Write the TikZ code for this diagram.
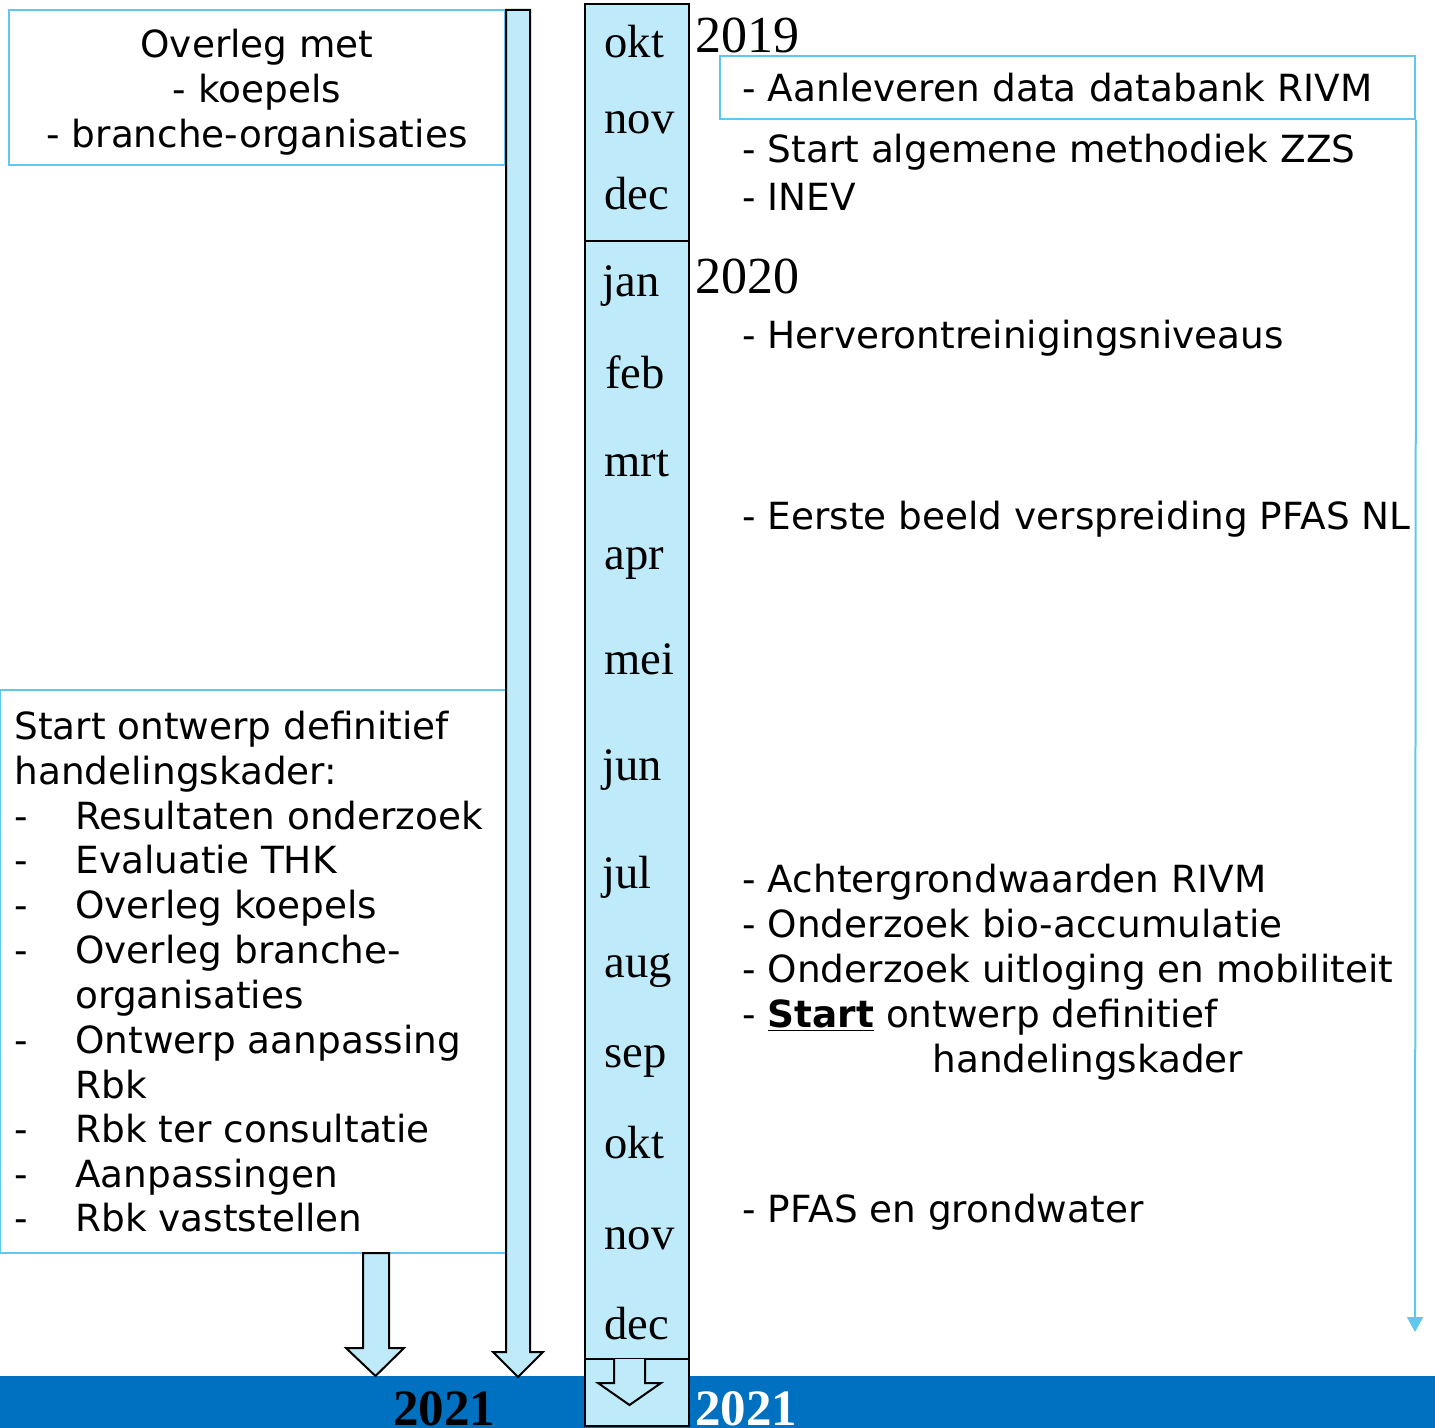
\documentclass[tikz,border=0pt]{standalone}
\usepackage{fontspec}
\setmainfont{DejaVu Sans}
\newfontfamily\maandfont{Liberation Serif}
\usetikzlibrary{arrows.meta}
\definecolor{lichtblauw}{RGB}{190,234,250}
\definecolor{randblauw}{RGB}{95,200,240}
\definecolor{bandblauw}{RGB}{0,112,192}

\tikzset{
  maand/.style = {anchor=west, inner sep=0pt, font=\maandfont\fontsize{23.3}{28}\selectfont},
  jaar/.style = {anchor=west, inner sep=0pt, font=\maandfont\fontsize{26}{30}\selectfont},
  slotjaar/.style = {anchor=base west, inner sep=0pt, font=\maandfont\bfseries\fontsize{25.5}{30}\selectfont},
  regel/.style = {anchor=base west, inner sep=0pt, font=\fontsize{18.7}{22.5}\selectfont},
  kader/.style = {draw=randblauw, line width=1pt, fill=white},
  blokpijl/.style = {draw=black, line width=1pt, fill=lichtblauw},
}
\newcommand{\streep}{\makebox[30.5pt][l]{-}}

\begin{document}
\begin{tikzpicture}[x=0.5pt, y=-0.5pt]

    \useasboundingbox (0,0) rectangle (1435,1428);

    % band onderaan
    \fill[bandblauw] (0,1376) rectangle (1435,1428);

    % kaders links
    \node[kader, minimum width=248pt, minimum height=77.5pt, inner sep=0pt] (overleg) at (257,87.5) {};
    \node[inner sep=0pt, align=center, font=\fontsize{18.7}{22.5}\selectfont] (overlegtekst) at (257,92)
          {Overleg met\\- koepels\\- branche-organisaties};
    \node[kader, minimum width=253.5pt, minimum height=281.5pt, inner sep=0pt] (ontwerp) at (253.5,971.5) {};

    \node[regel] (o1) at (14,739) {Start ontwerp definitief};
    \node[regel] (o2) at (14,784) {handelingskader:};
    \node[regel] (o3) at (14,829) {\streep Resultaten onderzoek};
    \node[regel] (o4) at (14,873) {\streep Evaluatie THK};
    \node[regel] (o5) at (14,918) {\streep Overleg koepels};
    \node[regel] (o6) at (14,963) {\streep Overleg branche-};
    \node[regel] (o7) at (75,1008) {organisaties};
    \node[regel] (o8) at (14,1053) {\streep Ontwerp aanpassing};
    \node[regel] (o9) at (75,1098) {Rbk};
    \node[regel] (o10) at (14,1142) {\streep Rbk ter consultatie};
    \node[regel] (o11) at (14,1187) {\streep Aanpassingen};
    \node[regel] (o12) at (14,1231) {\streep Rbk vaststellen};

    % pijlen naar 2021
    \draw[blokpijl] (506,10) -- (530,10) -- (530,1352) -- (543,1352) -- (518,1377)
        -- (493,1352) -- (506,1352) -- cycle;
    \draw[blokpijl] (363,1253) -- (389,1253) -- (389,1348) -- (404,1348) -- (375.5,1376)
        -- (346,1348) -- (363,1348) -- cycle;

    % maandbalk
    \draw[blokpijl] (585,4) rectangle (689,1426);
    \draw[line width=1pt] (585,241) -- (689,241);
    \draw[line width=1pt] (585,1359) -- (689,1359);
    \draw[line width=1pt, fill=lichtblauw] (614,1359) -- (614,1383) -- (598,1383) -- (629.5,1405)
        -- (661,1383) -- (645,1383) -- (645,1359);

    \node[maand] (okt1) at (604,42) {okt};
    \node[maand] (nov1) at (604,123) {nov};
    \node[maand] (dec1) at (604,194) {dec};
    \node[maand] (jan) at (602,286) {jan};
    \node[maand] (feb) at (605,372) {feb};
    \node[maand] (mrt) at (604,464) {mrt};
    \node[maand] (apr) at (604,563) {apr};
    \node[maand] (mei) at (604,659) {mei};
    \node[maand] (jun) at (602,770) {jun};
    \node[maand] (jul) at (602,877) {jul};
    \node[maand] (aug) at (604,971) {aug};
    \node[maand] (sep) at (604,1061) {sep};
    \node[maand] (okt2) at (604,1143) {okt};
    \node[maand] (nov2) at (604,1239) {nov};
    \node[maand] (dec2) at (604,1324) {dec};

    \node[jaar] (j2019) at (695,35) {2019};
    \node[jaar] (j2020) at (695,276) {2020};
    \node[slotjaar] (eind1) at (393,1425) {2021};
    \node[slotjaar, text=white] (eind2) at (695,1425) {2021};

    % rechterkant
    \node[kader, minimum width=347.5pt, minimum height=31.5pt, inner xsep=11pt,
          text width=325.5pt, align=left, font=\fontsize{18.7}{22.5}\selectfont]
          (aanlevering) at (1067.5,87.5) {- Aanleveren data databank RIVM};
    \coordinate (pijleinde) at (1415,1332);
    \draw[randblauw, line width=1pt, -{Triangle[width=8pt,length=7.5pt]}] (aanlevering.south east) -- (pijleinde);

    \node[regel] (r1) at (742,163) {- Start algemene methodiek ZZS};
    \node[regel] (r2) at (742,211) {- INEV};
    \node[regel] (r3) at (742,349) {- Herverontreinigingsniveaus};
    \node[regel] (r4) at (742,530) {- Eerste beeld verspreiding PFAS NL};
    \node[regel] (r5) at (742,892) {- Achtergrondwaarden RIVM};
    \node[regel] (r6) at (742,937) {- Onderzoek bio-accumulatie};
    \node[regel] (r7) at (742,982) {- Onderzoek uitloging en mobiliteit};
    \node[regel] (r8) at (742,1027) {- \underline{\textbf{Start}} ontwerp definitief};
    \node[regel] (r9) at (932,1072) {handelingskader};
    \node[regel] (r10) at (742,1222) {- PFAS en grondwater};

\end{tikzpicture}
\end{document}
